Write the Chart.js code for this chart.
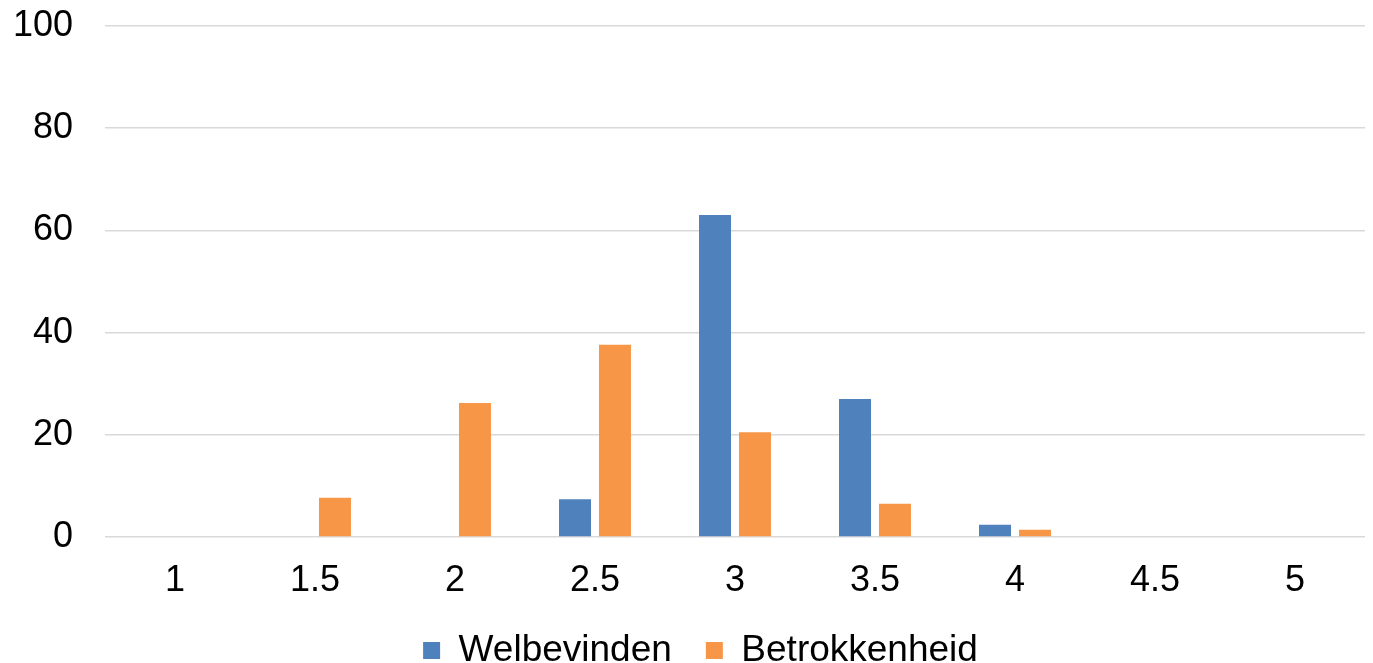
<!DOCTYPE html>
<html>
<head>
<meta charset="utf-8">
<script src="https://cdn.jsdelivr.net/npm/chart.js@4/dist/chart.umd.min.js"></script>
<style>
html,body{margin:0;padding:0;background:#fff;}
#wrap{width:1373px;height:663px;position:relative;}
</style>
</head>
<body>
<div id="wrap"><canvas id="c" width="1373" height="663"></canvas></div>
<script>
const categories = ['1', '1.5', '2', '2.5', '3', '3.5', '4', '4.5', '5'];
const welbevinden = [0, 0, 0, 7.4, 63.0, 27.0, 2.4, 0, 0];
const betrokkenheid = [0, 7.7, 26.2, 37.6, 20.5, 6.5, 1.4, 0, 0];
const yTicks = [0, 20, 40, 60, 80, 100];

const FONT = "'Liberation Sans', Arial, sans-serif";

const legendShift = {
  id: 'legendShift',
  afterLayout(chart) {
    if (chart.legend) { chart.legend.left += 18; chart.legend.right += 18; }
  }
};

new Chart(document.getElementById('c'), {
  type: 'bar',
  data: {
    labels: categories,
    datasets: [
      { label: 'Welbevinden', data: welbevinden, backgroundColor: '#4F81BD', categoryPercentage: 0.571, barPercentage: 0.8 },
      { label: 'Betrokkenheid', data: betrokkenheid, backgroundColor: '#F79646', categoryPercentage: 0.571, barPercentage: 0.8 }
    ]
  },
  plugins: [legendShift],
  options: {
    responsive: false,
    animation: false,
    layout: { padding: { top: 26, right: 8, left: 0, bottom: -16 } },
    plugins: {
      legend: {
        position: 'bottom',
        labels: {
          font: { family: FONT, size: 37 },
          color: '#000',
          boxWidth: 17,
          boxHeight: 17,
          padding: 34
        }
      },
      tooltip: { enabled: false }
    },
    scales: {
      x: {
        grid: { display: false, drawTicks: false },
        border: { display: false },
        ticks: { font: { family: FONT, size: 36 }, color: '#000', padding: 22 },
        afterFit: (s) => { s.height = 61; }
      },
      y: {
        min: 0, max: 100,
        afterBuildTicks: (s) => { s.ticks = yTicks.map(v => ({ value: v })); },
        grid: { color: '#D9D9D9', lineWidth: 1.5, drawTicks: true, tickLength: 32, tickColor: 'rgba(0,0,0,0)' },
        border: { display: false },
        ticks: { font: { family: FONT, size: 36 }, color: '#000', padding: 0 },
        afterFit: (s) => { s.width = 105; }
      }
    }
  }
});
</script>
</body>
</html>
